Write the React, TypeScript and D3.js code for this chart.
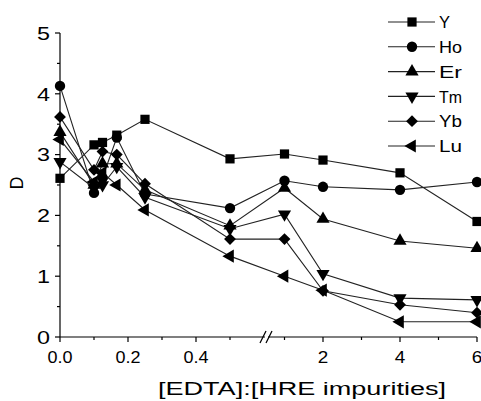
import React from 'react';
import * as d3 from 'd3';

const ratios = [0, 0.1, 0.125, 0.167, 0.25, 0.5, 1, 2, 4, 6];
const seriesNames = ['Y', 'Ho', 'Er', 'Tm', 'Yb', 'Lu'];
const valuesY = [2.61, 3.16, 3.2, 3.32, 3.58, 2.93, 3.01, 2.91, 2.7, 1.9];
const valuesHo = [4.13, 2.37, 2.62, 3.28, 2.35, 2.12, 2.57, 2.47, 2.42, 2.55];
const valuesEr = [3.37, 2.5, 2.85, 2.85, 2.42, 1.83, 2.45, 1.94, 1.58, 1.46];
const valuesTm = [2.88, 2.45, 2.5, 2.8, 2.3, 1.78, 2.02, 1.04, 0.64, 0.61];
const valuesYb = [3.62, 2.75, 3.05, 3.0, 2.52, 1.61, 1.61, 0.76, 0.53, 0.4];
const valuesLu = [3.25, 2.55, 2.7, 2.5, 2.09, 1.33, 1.0, 0.77, 0.25, 0.25];
const allValues = [valuesY, valuesHo, valuesEr, valuesTm, valuesYb, valuesLu];

const yTicks = [0, 1, 2, 3, 4, 5];
const yMinor = [0.5, 1.5, 2.5, 3.5, 4.5];
const xTicksLow = [0, 0.2, 0.4];
const xMinorLow = [0.1, 0.3, 0.5];
const xTicksHigh = [2, 4, 6];
const xMinorHigh = [1, 3, 5];

const W = 481;
const H = 401;
const font = '"Liberation Sans", Arial, sans-serif';

// broken x axis: two linear pieces
const xLow = d3.scaleLinear().domain([0, 0.6]).range([60, 264]);
const xHigh = d3.scaleLinear().domain([1, 6]).range([284.5, 477]);
const xPos = (v: number) => (v <= 0.6 ? xLow(v) : xHigh(v));
const y = d3.scaleLinear().domain([0, 5]).range([337, 33]);

// marker shapes per series
const markers = [
  { type: d3.symbolSquare, size: 85, rot: 0 },
  { type: d3.symbolCircle, size: 85, rot: 0 },
  { type: d3.symbolTriangle, size: 75, rot: 0 },
  { type: d3.symbolTriangle, size: 75, rot: 180 },
  { type: d3.symbolSquare, size: 70, rot: 45 },
  { type: d3.symbolTriangle, size: 75, rot: -90 },
];

function Marker({ i, x, yy }: { i: number; x: number; yy: number }) {
  const m = markers[i];
  const d = d3.symbol().type(m.type).size(m.size)() as string;
  return <path d={d} transform={`translate(${x},${yy}) rotate(${m.rot})`} fill="#000" />;
}

export default function App() {
  const line = d3.line<number>()
    .x((_, j) => xPos(ratios[j]))
    .y(v => y(v));

  const axisY = 337;
  return (
    <svg width={W} height={H} style={{ position: 'absolute', left: 0, top: 0, background: '#fff' }}>
      {/* lines */}
      {allValues.map((vals, i) => (
        <path key={'l' + i} d={line(vals) as string} fill="none" stroke="#222" strokeWidth={1.1} />
      ))}
      {/* markers */}
      {allValues.map((vals, i) => vals.map((v, j) => (
        <Marker key={`m${i}-${j}`} i={i} x={xPos(ratios[j])} yy={y(v)} />
      )))}

      {/* y axis */}
      <line x1={60} x2={60} y1={y(5)} y2={axisY} stroke="#000" strokeWidth={1.2} />
      {yTicks.map(t => (
        <g key={'yt' + t}>
          <line x1={55} x2={60} y1={y(t)} y2={y(t)} stroke="#000" strokeWidth={1.2} />
          <text x={50} y={y(t)} dy="0.36em" textAnchor="end" fontFamily={font} fontSize={19}
            textLength={13} lengthAdjust="spacingAndGlyphs" fill="#000">{t}</text>
        </g>
      ))}
      {yMinor.map(t => (
        <line key={'ym' + t} x1={57} x2={60} y1={y(t)} y2={y(t)} stroke="#000" strokeWidth={1.2} />
      ))}

      {/* x axis with break */}
      <line x1={60} x2={265} y1={axisY} y2={axisY} stroke="#000" strokeWidth={1.2} />
      <line x1={268} x2={477} y1={axisY} y2={axisY} stroke="#000" strokeWidth={1.2} />
      <line x1={260} x2={266} y1={343} y2={331} stroke="#000" strokeWidth={1.2} />
      <line x1={266} x2={272} y1={343} y2={331} stroke="#000" strokeWidth={1.2} />
      {xTicksLow.map(t => (
        <g key={'xl' + t}>
          <line x1={xLow(t)} x2={xLow(t)} y1={axisY} y2={axisY + 5} stroke="#000" strokeWidth={1.2} />
          <text x={xLow(t)} y={363} textAnchor="middle" fontFamily={font} fontSize={16}
            textLength={25} lengthAdjust="spacingAndGlyphs" fill="#000">{d3.format('.1f')(t)}</text>
        </g>
      ))}
      {xMinorLow.map(t => (
        <line key={'xml' + t} x1={xLow(t)} x2={xLow(t)} y1={axisY} y2={axisY + 3} stroke="#000" strokeWidth={1.2} />
      ))}
      {xTicksHigh.map(t => (
        <g key={'xh' + t}>
          <line x1={xHigh(t)} x2={xHigh(t)} y1={axisY} y2={axisY + 5} stroke="#000" strokeWidth={1.2} />
          <text x={xHigh(t)} y={363} textAnchor="middle" fontFamily={font} fontSize={16}
            textLength={10.5} lengthAdjust="spacingAndGlyphs" fill="#000">{t}</text>
        </g>
      ))}
      {xMinorHigh.map(t => (
        <line key={'xmh' + t} x1={xHigh(t)} x2={xHigh(t)} y1={axisY} y2={axisY + 3} stroke="#000" strokeWidth={1.2} />
      ))}

      {/* axis titles */}
      <text x={302} y={395} textAnchor="middle" fontFamily={font} fontSize={18}
        textLength={288} lengthAdjust="spacingAndGlyphs" fill="#000">[EDTA]:[HRE impurities]</text>
      <text transform="translate(23,183) rotate(-90)" textAnchor="middle" fontFamily={font} fontSize={19}
        textLength={13} lengthAdjust="spacingAndGlyphs" fill="#000">D</text>

      {/* legend */}
      {seriesNames.map((name, i) => {
        const ly = 22 + i * 24.8;
        return (
          <g key={'lg' + name}>
            <line x1={388} x2={435} y1={ly} y2={ly} stroke="#222" strokeWidth={1.1} />
            <Marker i={i} x={412} yy={ly} />
            <text x={439} y={ly} dy="0.36em" fontFamily={font} fontSize={17}
              textLength={name.length === 1 ? 11 : 23} lengthAdjust="spacingAndGlyphs" fill="#000">{name}</text>
          </g>
        );
      })}
    </svg>
  );
}
